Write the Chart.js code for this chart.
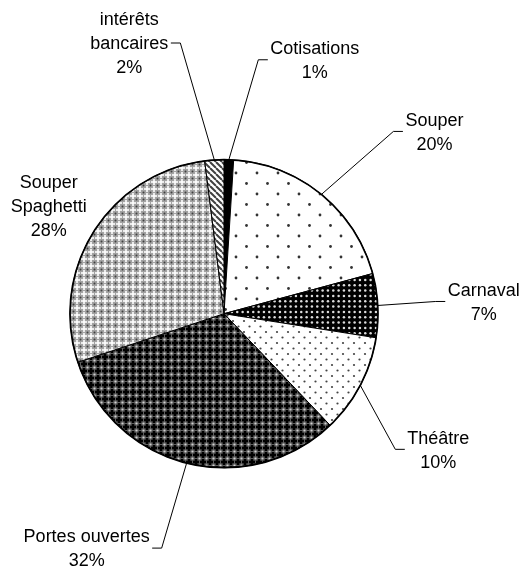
<!DOCTYPE html>
<html><head><meta charset="utf-8">
<script src="https://cdn.jsdelivr.net/npm/chart.js@4"></script>
<style>html,body{margin:0;padding:0;background:#fff;}canvas{display:block;}</style>
</head><body>
<canvas id="c" width="525" height="574"></canvas>
<script>
// ---- data ----
const categories = ["Cotisations", "Souper", "Carnaval", "Théâtre", "Portes ouvertes", "Souper Spaghetti", "intérêts bancaires"];
const labelLines = [["Cotisations"], ["Souper"], ["Carnaval"], ["Théâtre"], ["Portes ouvertes"], ["Souper", "Spaghetti"], ["intérêts", "bancaires"]];
const values = [1.0, 19.8, 6.7, 10.4, 32.0, 28.1, 2.0];

// ---- layout (label offsets from each slice's outer mid-point) ----
const labelOffsets = [[86, -100], [113, -63], [106, -4], [78, 64], [-100, 85], [-45, -26], [-85, -117]];
const LINE_H = 24;

// ---- fill patterns ----
function makePattern(size, draw) {
  const c = document.createElement('canvas');
  c.width = size; c.height = size;
  const g = c.getContext('2d');
  draw(g, size);
  return g.createPattern(c, 'repeat');
}
function dot(g, x, y, r, col) { g.fillStyle = col; g.beginPath(); g.arc(x, y, r, 0, Math.PI * 2); g.fill(); }
function plusAt(g, x, y, arm, th, col) { g.fillStyle = col; g.fillRect(x - th / 2, y - arm, th, arm * 2); g.fillRect(x - arm, y - th / 2, arm * 2, th); }

const patSolidBlack = '#000000';
const patSparseDots = makePattern(21, (g, s) => {
  g.fillStyle = '#fff'; g.fillRect(0, 0, s, s);
  dot(g, 5, 5, 1.4, '#333'); dot(g, 15.5, 15.5, 1.4, '#333');
});
const patBlackWhiteDots = makePattern(16, (g, s) => {
  g.fillStyle = '#000'; g.fillRect(0, 0, s, s);
  for (let i = 0; i < 3; i++) for (let j = 0; j < 3; j++) dot(g, 2.6 + i * 5.33, 2.6 + j * 5.33, 1.25, '#dcdcdc');
});
const patDenseDots = makePattern(11, (g, s) => {
  g.fillStyle = '#fff'; g.fillRect(0, 0, s, s);
  dot(g, 2, 2, 1.1, '#444'); dot(g, 7.5, 7.5, 1.1, '#444');
});
const patDarkWeave = makePattern(7, (g, s) => {
  g.fillStyle = '#5e5e5e'; g.fillRect(0, 0, s, s);
  for (const [x, y] of [[0, 0], [s, 0], [0, s], [s, s]]) plusAt(g, x, y, 3, 2.6, '#000');
  dot(g, 3.5, 3.5, 1.1, '#d0d0d0');
});
const patLightWeave = makePattern(7, (g, s) => {
  g.fillStyle = '#a2a2a2'; g.fillRect(0, 0, s, s);
  for (const [x, y] of [[0, 0], [s, 0], [0, s], [s, s]]) plusAt(g, x, y, 3, 1.6, '#ffffff');
  dot(g, 3.5, 3.5, 1.0, '#404040');
});
const patDiagonal = makePattern(6, (g, s) => {
  g.fillStyle = '#fff'; g.fillRect(0, 0, s, s);
  g.strokeStyle = '#404040'; g.lineWidth = 2;
  for (const off of [-s, 0, s]) { g.beginPath(); g.moveTo(off, 0); g.lineTo(off + s, s); g.stroke(); }
});
const fills = [patSolidBlack, patSparseDots, patBlackWhiteDots, patDenseDots, patDarkWeave, patLightWeave, patDiagonal];

// ---- labels & leader lines plugin ----
const labelPlugin = {
  id: 'pieLabels',
  afterDatasetsDraw(chart) {
    const ctx = chart.ctx;
    const meta = chart.getDatasetMeta(0);
    const total = values.reduce((a, b) => a + b, 0);
    ctx.save();
    const a0 = meta.data[0];
    ctx.beginPath();
    ctx.arc(a0.x, a0.y, a0.outerRadius, 0, Math.PI * 2);
    ctx.lineWidth = 1.7; ctx.strokeStyle = '#000'; ctx.stroke();
    ctx.font = '18px "Liberation Sans", Arial, sans-serif';
    meta.data.forEach((arc, i) => {
      const { x, y, startAngle, endAngle, outerRadius } = arc.getProps(['x', 'y', 'startAngle', 'endAngle', 'outerRadius'], true);
      const mid = (startAngle + endAngle) / 2;
      const ex = x + Math.cos(mid) * outerRadius, ey = y + Math.sin(mid) * outerRadius;
      const lx = ex + labelOffsets[i][0], ly = ey + labelOffsets[i][1];
      const lines = [...labelLines[i], Math.round(values[i] / total * 100) + '%'];
      const w = Math.max(...lines.map(t => ctx.measureText(t).width));
      const n = lines.length;
      ctx.fillStyle = '#000'; ctx.textAlign = 'center'; ctx.textBaseline = 'alphabetic';
      lines.forEach((t, k) => ctx.fillText(t, lx, ly + (k - (n - 1) / 2) * LINE_H + 6.3));
      const right = lx > x;
      const ax = right ? lx - w / 2 - 2.5 : lx + w / 2 + 2.5;
      if (Math.hypot(ax - ex, ly - ey) > 35) {
        const bx = right ? ax - 9.5 : ax + 9.5;
        ctx.beginPath(); ctx.moveTo(ex, ey); ctx.lineTo(bx, ly); ctx.lineTo(ax, ly);
        ctx.lineWidth = 1; ctx.strokeStyle = '#000'; ctx.stroke();
      }
    });
    ctx.restore();
  }
};

new Chart(document.getElementById('c'), {
  type: 'pie',
  data: {
    labels: categories,
    datasets: [{
      data: values,
      backgroundColor: fills,
      borderColor: '#000',
      borderWidth: 1,
      hoverOffset: 0
    }]
  },
  options: {
    responsive: false,
    animation: false,
    events: [],
    radius: 154,
    layout: { padding: { left: 70, right: 147, top: 160, bottom: 106.6 } },
    plugins: { legend: { display: false }, tooltip: { enabled: false } }
  },
  plugins: [labelPlugin]
});
</script>
</body></html>
